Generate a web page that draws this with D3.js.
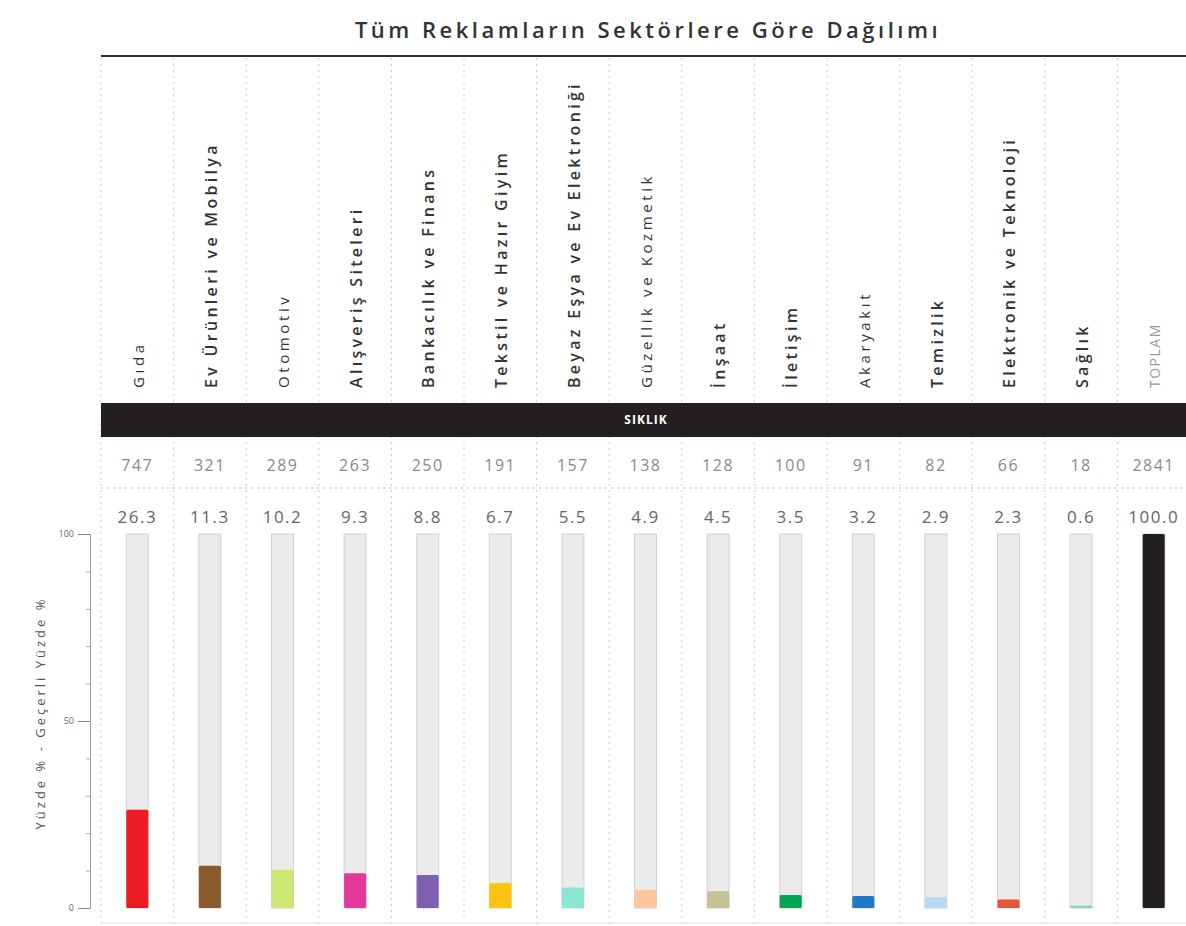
<!DOCTYPE html>
<html>
<head>
<meta charset="utf-8">
<script src="https://cdn.jsdelivr.net/npm/d3@7"></script>
<style>
  body { margin: 0; background: #fff; }
  svg { display: block; font-family: 'Open Sans', sans-serif; }
</style>
</head>
<body>
<div id="chart"></div>
<script>
// Sectors, in the order they appear
const categories = [
  'Gıda', 'Ev Ürünleri ve Mobilya', 'Otomotiv', 'Alışveriş Siteleri',
  'Bankacılık ve Finans', 'Tekstil ve Hazır Giyim', 'Beyaz Eşya ve Ev Elektroniği',
  'Güzellik ve Kozmetik', 'İnşaat', 'İletişim', 'Akaryakıt', 'Temizlik',
  'Elektronik ve Teknoloji', 'Sağlık', 'TOPLAM'
]
const frequencies = [747, 321, 289, 263, 250, 191, 157, 138, 128, 100, 91, 82, 66, 18, 2841]
const percents = [26.3, 11.3, 10.2, 9.3, 8.8, 6.7, 5.5, 4.9, 4.5, 3.5, 3.2, 2.9, 2.3, 0.6, 100.0]
const majorTicks = [0, 50, 100]
const minorTicks = [10, 20, 30, 40, 60, 70, 80, 90]

const title = 'Tüm Reklamların Sektörlere Göre Dağılımı'
const bandTitle = 'SIKLIK'
const yTitle = 'Yüzde % - Geçerli Yüzde %'

// styling
const colors = [
  '#ed1c24', '#8b5a2b', '#cbe872', '#e2399b', '#7f60ae', '#ffc20e', '#8ce6d4',
  '#fdc69c', '#c6c295', '#00a651', '#1f78c8', '#b5daf1', '#e8553e', '#7fd4c2', '#231f20'
]
const boldLabels = new Set([
  'Ev Ürünleri ve Mobilya', 'Alışveriş Siteleri', 'Bankacılık ve Finans',
  'Tekstil ve Hazır Giyim', 'Beyaz Eşya ve Ev Elektroniği', 'İnşaat', 'İletişim',
  'Temizlik', 'Elektronik ve Teknoloji', 'Sağlık'
])

const width = 1186
const height = 926
const left = 101
const step = 72.6
const barWidth = 22

const svg = d3.select('#chart')
  .append('svg')
  .attr('width', width)
  .attr('height', height)

const x = d3.scaleBand()
  .domain(categories)
  .range([left, left + step * categories.length])
  .padding(0)

const y = d3.scaleLinear()
  .domain([0, 100])
  .range([908, 534])

const cx = d => x(d) + x.bandwidth() / 2

// column separators
const bounds = categories.map(d => x(d)).concat([x.range()[1]])
svg.append('g')
  .selectAll('line')
  .data(bounds)
  .join('line')
  .attr('x1', d => d)
  .attr('x2', d => d)
  .attr('y1', 58)
  .attr('y2', height)
  .attr('stroke', '#c9c9c9')
  .attr('stroke-dasharray', '2,4')

// title + rule
svg.append('text')
  .attr('x', 648)
  .attr('y', 38)
  .attr('text-anchor', 'middle')
  .attr('font-size', 22)
  .attr('font-weight', 600)
  .attr('letter-spacing', 3.5)
  .attr('fill', '#333')
  .text(title)

svg.append('line')
  .attr('x1', left)
  .attr('x2', width)
  .attr('y1', 56)
  .attr('y2', 56)
  .attr('stroke', '#333')
  .attr('stroke-width', 2)

// category labels
svg.append('g')
  .selectAll('text')
  .data(categories)
  .join('text')
  .attr('transform', d => `translate(${cx(d) + 1}, 388) rotate(-90)`)
  .attr('dy', '0.35em')
  .attr('font-size', d => d === 'TOPLAM' ? 14 : boldLabels.has(d) ? 16 : 15)
  .attr('font-weight', d => boldLabels.has(d) ? 600 : 400)
  .attr('letter-spacing', d => d === 'TOPLAM' ? 1.5 : boldLabels.has(d) ? 3.3 : 3.6)
  .attr('fill', d => d === 'TOPLAM' ? '#999' : '#333')
  .text(d => d)

// black band
svg.append('rect')
  .attr('x', left)
  .attr('y', 403)
  .attr('width', width - left)
  .attr('height', 34)
  .attr('fill', '#231f20')

svg.append('text')
  .attr('x', 646)
  .attr('y', 424)
  .attr('text-anchor', 'middle')
  .attr('font-size', 12)
  .attr('font-weight', 700)
  .attr('letter-spacing', 1)
  .attr('fill', '#fff')
  .text(bandTitle)

// frequency row
svg.append('g')
  .selectAll('text')
  .data(frequencies)
  .join('text')
  .attr('x', (d, i) => cx(categories[i]))
  .attr('y', 471)
  .attr('text-anchor', 'middle')
  .attr('font-size', 16)
  .attr('letter-spacing', 1.5)
  .attr('fill', '#8a8a8a')
  .text(d => d)

svg.append('line')
  .attr('x1', left)
  .attr('x2', width)
  .attr('y1', 488)
  .attr('y2', 488)
  .attr('stroke', '#bbb')
  .attr('stroke-dasharray', '2,4')

// percent row
svg.append('g')
  .selectAll('text')
  .data(percents)
  .join('text')
  .attr('x', (d, i) => cx(categories[i]))
  .attr('y', 523)
  .attr('text-anchor', 'middle')
  .attr('font-size', 17)
  .attr('letter-spacing', 1.5)
  .attr('fill', '#666')
  .text(d => d3.format('.1f')(d))

// bars: grey track + coloured value
const bars = svg.append('g')
  .selectAll('g')
  .data(percents)
  .join('g')

bars.append('rect')
  .attr('x', (d, i) => cx(categories[i]) - barWidth / 2)
  .attr('y', y(100))
  .attr('width', barWidth)
  .attr('height', y(0) - y(100))
  .attr('fill', '#ebebeb')
  .attr('stroke', '#d2d2d2')
  .attr('stroke-width', 1)

bars.append('rect')
  .attr('x', (d, i) => cx(categories[i]) - barWidth / 2)
  .attr('y', d => y(d))
  .attr('width', barWidth)
  .attr('height', d => y(0) - y(d))
  .attr('rx', 1.5)
  .attr('fill', (d, i) => colors[i])

// bottom rule
svg.append('line')
  .attr('x1', left)
  .attr('x2', width)
  .attr('y1', 923)
  .attr('y2', 923)
  .attr('stroke', '#e2e2e2')

// y axis
const axisMajor = svg.append('g')
  .attr('transform', 'translate(90, 0)')
  .call(d3.axisLeft(y).tickValues(majorTicks).tickSize(12).tickPadding(4))
axisMajor.select('.domain').attr('stroke', '#999')
axisMajor.selectAll('.tick line').attr('stroke', '#888')
axisMajor.selectAll('.tick text')
  .attr('font-family', 'Open Sans, sans-serif')
  .attr('font-size', 9)
  .attr('fill', '#666')

const axisMinor = svg.append('g')
  .attr('transform', 'translate(90, 0)')
  .call(d3.axisLeft(y).tickValues(minorTicks).tickSize(4).tickFormat(''))
axisMinor.select('.domain').remove()
axisMinor.selectAll('.tick line').attr('stroke', '#aaa')

svg.append('text')
  .attr('transform', 'translate(45, 713) rotate(-90)')
  .attr('text-anchor', 'middle')
  .attr('font-size', 13)
  .attr('letter-spacing', 3)
  .attr('fill', '#555')
  .text(yTitle)
</script>
</body>
</html>
